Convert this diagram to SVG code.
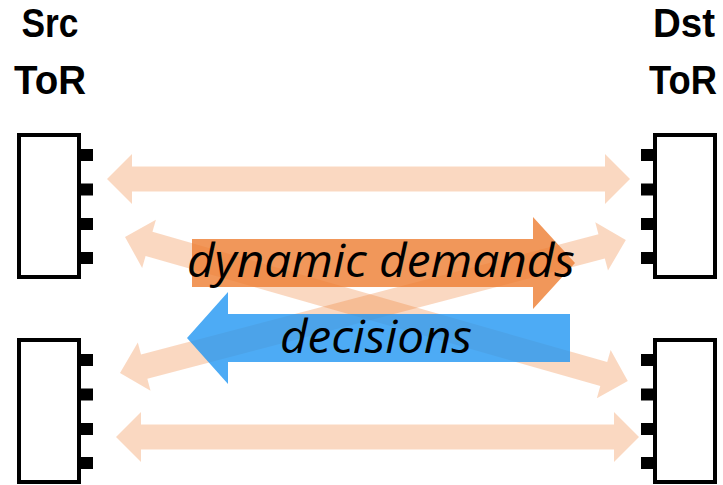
<svg xmlns="http://www.w3.org/2000/svg" xmlns:xlink="http://www.w3.org/1999/xlink" width="723" height="485" viewBox="0 0 723 485">
  <style>
    .tor { fill: #ffffff; stroke: #000000; stroke-width: 4; }
    .port { fill: #000000; }
    .label { font-family: "Liberation Sans", Arial, sans-serif; font-weight: bold; font-size: 40px; fill: #000000; text-anchor: middle; }
    .link { fill: #ED7D31; fill-opacity: 0.3; }
    .flow { font-family: "Open Sans", "Liberation Sans", sans-serif; font-style: italic; font-size: 45px; fill: #000000; text-anchor: middle; }
  </style>
  <defs>
    <!-- double-headed link arrow, 523 long, laid along +x from the origin -->
    <path id="dbl" d="M0,0 L25,-25 L25,-12.5 L498,-12.5 L498,-25 L523,0 L498,25 L498,12.5 L25,12.5 L25,25 Z"/>
    <!-- ToR switch body with four ports on the right side -->
    <g id="torR">
      <rect class="tor" x="0" y="0" width="60" height="142"/>
      <rect class="port" x="62" y="14" width="12" height="12"/>
      <rect class="port" x="62" y="48.5" width="12" height="12"/>
      <rect class="port" x="62" y="83" width="12" height="12"/>
      <rect class="port" x="62" y="117" width="12" height="12"/>
    </g>
    <!-- ToR switch body with four ports on the left side -->
    <g id="torL">
      <rect class="tor" x="0" y="0" width="60" height="142"/>
      <rect class="port" x="-14" y="14" width="12" height="12"/>
      <rect class="port" x="-14" y="48.5" width="12" height="12"/>
      <rect class="port" x="-14" y="83" width="12" height="12"/>
      <rect class="port" x="-14" y="117" width="12" height="12"/>
    </g>
  </defs>

  <rect width="723" height="485" fill="#ffffff"/>

  <!-- headers -->
  <g id="src-label">
    <text class="label" x="50" y="37" textLength="57" lengthAdjust="spacingAndGlyphs">Src</text>
    <text class="label" x="50" y="94" textLength="72" lengthAdjust="spacingAndGlyphs">ToR</text>
  </g>
  <g id="dst-label">
    <text class="label" x="684" y="37" textLength="62" lengthAdjust="spacingAndGlyphs">Dst</text>
    <text class="label" x="683" y="94" textLength="68" lengthAdjust="spacingAndGlyphs">ToR</text>
  </g>

  <!-- switches -->
  <g id="src-tor-1"><use xlink:href="#torR" x="19" y="135"/></g>
  <g id="src-tor-2"><use xlink:href="#torR" x="19" y="340"/></g>
  <g id="dst-tor-1"><use xlink:href="#torL" x="655" y="135"/></g>
  <g id="dst-tor-2"><use xlink:href="#torL" x="655" y="340"/></g>

  <!-- links and flows -->
  <g id="connectors">
    <use class="link" xlink:href="#dbl" transform="translate(107,179)"/>
    <use class="link" xlink:href="#dbl" transform="translate(116,437)"/>
    <use class="link" xlink:href="#dbl" transform="translate(125,237) rotate(15.98)"/>
    <use class="link" xlink:href="#dbl" transform="translate(120,373) rotate(-14.73)"/>

    <g id="demands">
      <path d="M192,239 H533 V217 L575,263 L533,309 V287 H192 Z" fill="#ED7D31" fill-opacity="0.8"/>
      <text class="flow" x="381" y="277" textLength="388" lengthAdjust="spacingAndGlyphs">dynamic demands</text>
    </g>
    <g id="decisions">
      <path d="M570,314 H228 V292 L187,338 L228,384 V362 H570 Z" fill="#2196F3" fill-opacity="0.8"/>
      <text class="flow" x="376" y="353" textLength="192" lengthAdjust="spacingAndGlyphs">decisions</text>
    </g>
  </g>
</svg>
